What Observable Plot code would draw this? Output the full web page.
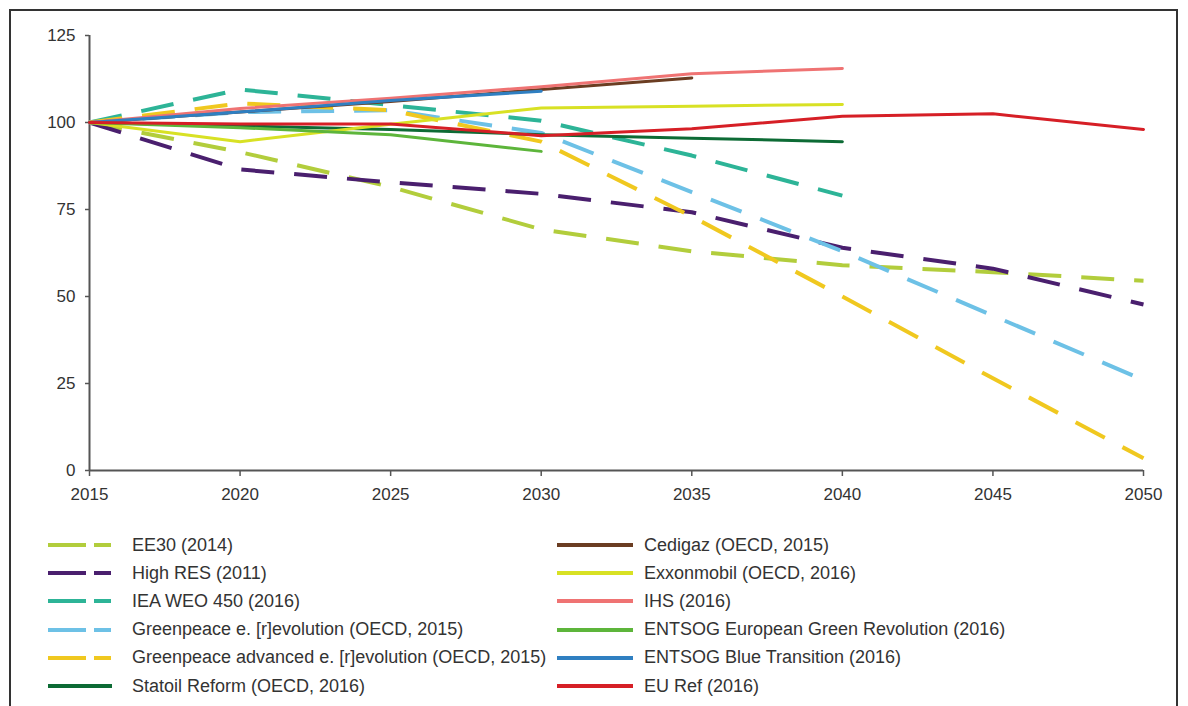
<!DOCTYPE html>
<html>
<head>
<meta charset="utf-8">
<script src="https://cdn.jsdelivr.net/npm/d3@7"></script>
<script src="https://cdn.jsdelivr.net/npm/@observablehq/plot@0.6"></script>
<style>
  html, body { margin: 0; padding: 0; background: #fff; overflow: hidden; }
  body { width: 1188px; height: 706px; position: relative; font-family: "Liberation Sans", Arial, sans-serif; }
  #frame { position: absolute; left: 9px; top: 9px; width: 1169px; height: 720px; border: 2px solid #333; box-sizing: border-box; }
  #chart { position: absolute; left: 0; top: 0; }
  #legend { position: absolute; left: 0; top: 0; width: 1188px; height: 706px; pointer-events: none; }
  .item { position: absolute; height: 28px; display: flex; align-items: center; font-size: 18px; color: #333; white-space: nowrap; }
  .item svg { flex: none; }
</style>
</head>
<body>
<div id="frame"></div>
<div id="chart"></div>
<div id="legend"></div>
<script>
// ---- data ----
const years = [2015, 2020, 2025, 2030, 2035, 2040, 2045, 2050];
const xTicks = [2015, 2020, 2025, 2030, 2035, 2040, 2045, 2050];
const yTicks = [0, 25, 50, 75, 100, 125];

const seriesNames = [
  "EE30 (2014)",
  "High RES (2011)",
  "IEA WEO 450 (2016)",
  "Greenpeace e. [r]evolution (OECD, 2015)",
  "Greenpeace advanced e. [r]evolution (OECD, 2015)",
  "Statoil Reform (OECD, 2016)",
  "Cedigaz (OECD, 2015)",
  "Exxonmobil (OECD, 2016)",
  "IHS (2016)",
  "ENTSOG European Green Revolution (2016)",
  "ENTSOG Blue Transition (2016)",
  "EU Ref (2016)"
];

const ee30        = [100, 91.5, 81.5, 69.3, 63, 59, 57, 54.5];
const highRes     = [100, 86.5, 82.8, 79.5, 74.2, 64, 58, 47.7];
const ieaWeo450   = [100, 109.5, 105, 100.5, 90.5, 79];
const greenpeace  = [100, 103, 103.5, 97, 80, 63, 44.5, 26];
const gpAdvanced  = [100, 105.5, 103.5, 94.5, 73, 50, 26.5, 3.5];
const statoil     = [100, 99, 98, 96.5, 95.5, 94.5];
const cedigaz     = [100, 103, 106, 109.5, 112.8];
const exxonmobil  = [100, 94.5, 99.5, 104.2, 104.7, 105.2];
const ihs         = [100, 104, 107, 110.3, 114, 115.5];
const entsogGreen = [100, 98.5, 96.5, 91.7];
const entsogBlue  = [100, 103, 106.3, 109];
const euRef       = [100, 99.6, 99.6, 96.2, 98.2, 101.8, 102.5, 98];

const seriesValues = [ee30, highRes, ieaWeo450, greenpeace, gpAdvanced, statoil,
  cedigaz, exxonmobil, ihs, entsogGreen, entsogBlue, euRef];

const seriesColors = ["#b2cd3c", "#4a1f6e", "#2db497", "#6dc1e6", "#f0c81f", "#0d6b35",
  "#6b3d22", "#d8e124", "#ef7373", "#5db53b", "#2f7fc1", "#d61f26"];
const seriesDashed = [true, true, true, true, true, false,
  false, false, false, false, false, false];

// ---- table ----
const rows = [];
seriesNames.forEach((name, i) => {
  seriesValues[i].forEach((v, j) => rows.push({series: name, year: years[j], value: v}));
});

const lineMarks = seriesNames.map((name, i) =>
  Plot.line(rows.filter(d => d.series === name), {
    x: "year", y: "value",
    stroke: seriesColors[i],
    strokeWidth: seriesDashed[i] ? 4 : 3,
    strokeDasharray: seriesDashed[i] ? "33,20" : null,
    strokeLinecap: seriesDashed[i] ? "butt" : "round",
    strokeLinejoin: "round"
  })
);

const chart = Plot.plot({
  width: 1188,
  height: 500,
  marginLeft: 89,
  marginRight: 45,
  marginTop: 35,
  marginBottom: 30,
  x: {domain: [2015, 2050]},
  y: {domain: [0, 125]},
  style: {fontFamily: "'Liberation Sans', Arial, sans-serif", fontSize: "17px", color: "#333", background: "transparent", overflow: "visible"},
  marks: [
    Plot.axisX({ticks: xTicks, tickFormat: d => String(d), tickSize: 6, tickPadding: 11, label: null, stroke: "#555", strokeWidth: 1.5}),
    Plot.axisY({ticks: yTicks, tickSize: 4, tickPadding: 10, label: null, stroke: "#555", strokeWidth: 1.5}),
    Plot.ruleY([0], {stroke: "#555", strokeWidth: 2}),
    Plot.ruleX([2015], {stroke: "#555", strokeWidth: 2}),
    ...lineMarks
  ]
});
document.getElementById("chart").appendChild(chart);

// ---- legend ----
const legend = document.getElementById("legend");
const rowTop = 531, rowStep = 28.2;
seriesNames.forEach((name, i) => {
  const col = i < 6 ? 0 : 1;
  const r = i % 6;
  const div = document.createElement("div");
  div.className = "item";
  div.style.left = (col === 0 ? 48 : 557) + "px";
  div.style.top = (rowTop + r * rowStep) + "px";
  const w = col === 0 ? 64 : 76;
  const svgNS = "http://www.w3.org/2000/svg";
  const svg = document.createElementNS(svgNS, "svg");
  svg.setAttribute("width", w);
  svg.setAttribute("height", 10);
  const ln = document.createElementNS(svgNS, "line");
  ln.setAttribute("x1", 0); ln.setAttribute("x2", w);
  ln.setAttribute("y1", 5); ln.setAttribute("y2", 5);
  ln.setAttribute("stroke", seriesColors[i]);
  ln.setAttribute("stroke-width", 4);
  if (seriesDashed[i]) ln.setAttribute("stroke-dasharray", "38,8,17,100");
  svg.appendChild(ln);
  div.appendChild(svg);
  const span = document.createElement("span");
  span.textContent = name;
  span.style.marginLeft = (col === 0 ? 20 : 11) + "px";
  div.appendChild(span);
  legend.appendChild(div);
});
</script>
</body>
</html>
